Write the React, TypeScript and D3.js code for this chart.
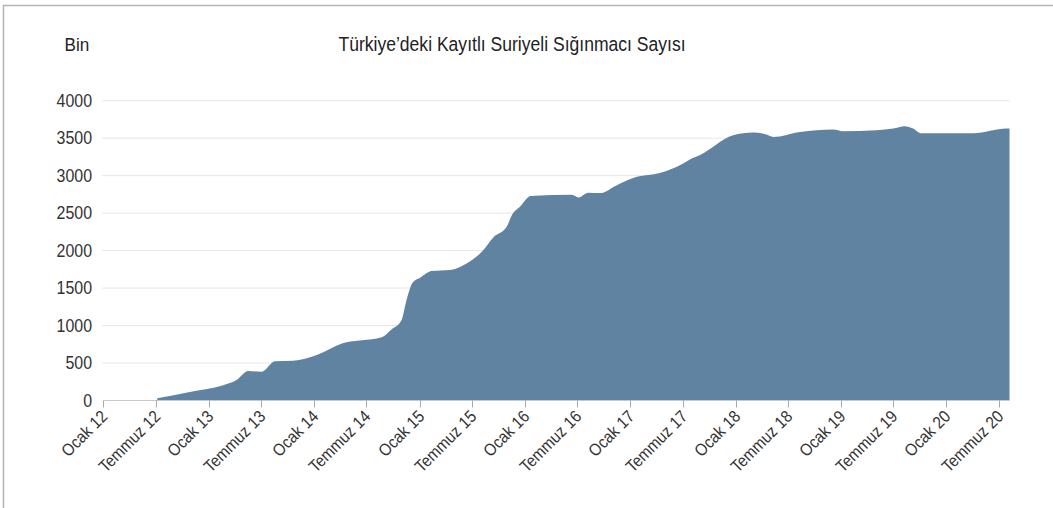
import React from "react";
import * as d3 from "d3";

const TITLE = "Türkiye’deki Kayıtlı Suriyeli Sığınmacı Sayısı";
const UNIT = "Bin";

const dates = [
  "2012-07-06", "2012-10-27", "2013-02-14", "2013-04-07", "2013-05-18", "2013-07-03",
  "2013-08-18", "2013-10-20", "2014-01-10", "2014-04-10", "2014-08-23", "2014-09-27",
  "2014-10-31", "2014-11-17", "2014-12-08", "2015-01-03", "2015-02-12", "2015-04-17", "2015-06-13", "2015-08-05",
  "2015-09-14", "2015-10-30", "2015-11-17", "2015-12-15", "2016-01-22", "2016-06-12",
  "2016-07-05", "2016-08-08", "2016-09-18", "2016-11-15", "2017-01-23", "2017-04-13",
  "2017-07-03", "2017-07-26", "2017-08-29", "2017-12-23", "2018-03-02", "2018-04-18",
  "2018-05-11", "2018-08-12", "2018-12-05", "2019-01-08", "2019-05-04", "2019-07-01",
  "2019-08-10", "2019-09-08", "2019-10-04", "2020-04-04", "2020-07-29", "2020-08-07",
];
const values = [
  30, 114, 197, 273, 393, 384,
  523, 531, 607, 763, 843, 949,
  1073, 1340, 1571, 1637, 1727, 1740, 1829, 1984,
  2176, 2317, 2473, 2584, 2727, 2744,
  2709, 2771, 2767, 2873, 2984, 3037,
  3163, 3216, 3273, 3540, 3576, 3549,
  3517, 3584, 3616, 3593, 3607, 3629,
  3660, 3629, 3567, 3567, 3629, 3629,
];

const yTicks = [0, 500, 1000, 1500, 2000, 2500, 3000, 3500, 4000];
const xTickDates = [
  "2012-01-01", "2012-07-01", "2013-01-01", "2013-07-01", "2014-01-01", "2014-07-01",
  "2015-01-01", "2015-07-01", "2016-01-01", "2016-07-01", "2017-01-01", "2017-07-01",
  "2018-01-01", "2018-07-01", "2019-01-01", "2019-07-01", "2020-01-01", "2020-07-01",
];
const xTickLabels = [
  "Ocak 12", "Temmuz 12", "Ocak 13", "Temmuz 13", "Ocak 14", "Temmuz 14",
  "Ocak 15", "Temmuz 15", "Ocak 16", "Temmuz 16", "Ocak 17", "Temmuz 17",
  "Ocak 18", "Temmuz 18", "Ocak 19", "Temmuz 19", "Ocak 20", "Temmuz 20",
];
const domainStart = "2012-01-01";

const W = 1053;
const H = 508;
const FONT = "'Liberation Sans', Arial, sans-serif";
const SX = 0.9;

export default function App() {
  const parse = d3.utcParse("%Y-%m-%d");
  const data = dates.map((d, i) => ({ date: parse(d) as Date, value: values[i] }));
  const x = d3
    .scaleUtc()
    .domain([parse(domainStart) as Date, data[data.length - 1].date])
    .range([103.3, 1009.5]);
  const y = d3.scaleLinear().domain([0, 4000]).range([400.5, 100.7]);

  const area = d3
    .area<{ date: Date; value: number }>()
    .x((d) => x(d.date))
    .y0(y(0))
    .y1((d) => y(d.value))
    .curve(d3.curveMonotoneX);

  const [x0, x1] = x.range();
  const axisY = y(0);

  return (
    <svg
      width={W}
      height={H}
      style={{ position: "absolute", left: 0, top: 0, background: "#fff" }}
      fontFamily={FONT}
    >
      <rect x={0} y={0} width={W} height={H} fill="#fff" />
      <line x1={3.5} y1={5} x2={3.5} y2={H} stroke="#b4b4b4" strokeWidth={1.5} />
      <line x1={3} y1={5.5} x2={W} y2={5.5} stroke="#b4b4b4" strokeWidth={1.5} />

      <text transform={`translate(512,51) scale(${SX},1)`} textAnchor="middle" fontSize={19.5} fill="#222">
        {TITLE}
      </text>
      <text transform={`translate(64.5,51) scale(${SX},1)`} fontSize={19} fill="#222">
        {UNIT}
      </text>

      {yTicks.map((t) => (
        <g key={t}>
          {t > 0 && (
            <line x1={x0 - 1} x2={x1} y1={y(t)} y2={y(t)} stroke="#e6e6e6" strokeWidth={1} />
          )}
          <text
            transform={`translate(92,${y(t) + 6.3}) scale(${SX},1)`}
            textAnchor="end"
            fontSize={17.7}
            fill="#333"
          >
            {t}
          </text>
        </g>
      ))}

      <path d={area(data) || ""} fill="#5f83a1" />

      <line x1={x0} x2={x1} y1={axisY} y2={axisY} stroke="#c8c8c8" strokeWidth={1} />
      {xTickDates.map((d, i) => {
        const tx = Math.round(x(parse(d) as Date)) + 0.5;
        return (
          <g key={d}>
            <line x1={tx} x2={tx} y1={axisY} y2={axisY + 7} stroke="#aaa" strokeWidth={1} />
            <text
              transform={`translate(${tx + 5},${axisY + 17}) rotate(-45) scale(${SX},1)`}
              textAnchor="end"
              fontSize={17}
              fill="#333"
            >
              {xTickLabels[i]}
            </text>
          </g>
        );
      })}
    </svg>
  );
}
